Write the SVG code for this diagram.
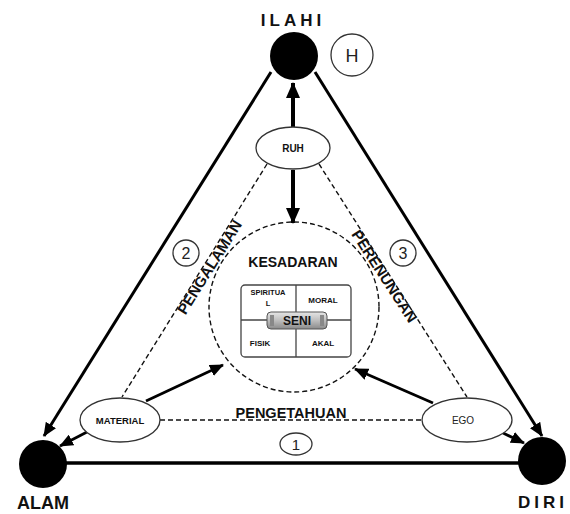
<svg xmlns="http://www.w3.org/2000/svg" width="570" height="514" viewBox="0 0 570 514">
<style>
.t{font-family:"Liberation Sans",Arial,sans-serif;font-weight:bold;fill:#111;text-anchor:middle}
.thin{font-family:"Liberation Sans",Arial,sans-serif;fill:#222;text-anchor:middle}
.dash{stroke:#111;stroke-width:1.4;stroke-dasharray:5,3;fill:none}
.ell{fill:#fff;stroke:#333;stroke-width:1.3}
.num{fill:#fff;stroke:#333;stroke-width:1.3}
</style>
<defs>
<marker id="ah" markerUnits="userSpaceOnUse" markerWidth="16" markerHeight="14" refX="15" refY="7" orient="auto">
<path d="M0,0 L16,7 L0,14 z" fill="#000"/>
</marker>
<marker id="ahs" markerUnits="userSpaceOnUse" markerWidth="14" markerHeight="12" refX="13" refY="6" orient="auto">
<path d="M0,0 L14,6 L0,12 z" fill="#000"/>
</marker>
<linearGradient id="pill" x1="0" y1="0" x2="0" y2="1">
<stop offset="0" stop-color="#e6e6e6"/>
<stop offset="0.5" stop-color="#bdbdbd"/>
<stop offset="1" stop-color="#8a8a8a"/>
</linearGradient>
</defs>
<g id="connectors">
<line x1="271" y1="72" x2="44" y2="436" stroke="#000" stroke-width="3" marker-end="url(#ahs)"/>
<line x1="315" y1="72" x2="542" y2="436" stroke="#000" stroke-width="3" marker-end="url(#ahs)"/>
<line x1="66" y1="463" x2="520" y2="463" stroke="#000" stroke-width="3.5"/>
<line x1="293" y1="127" x2="293" y2="83" stroke="#000" stroke-width="4" marker-end="url(#ah)"/>
<line x1="293" y1="170" x2="293" y2="223" stroke="#000" stroke-width="4" marker-end="url(#ah)"/>
<line x1="267" y1="164" x2="122" y2="397" class="dash"/>
<line x1="319" y1="164" x2="467" y2="397" class="dash"/>
<line x1="160" y1="420" x2="422" y2="420" class="dash"/>
<line x1="146" y1="401" x2="223" y2="365" stroke="#000" stroke-width="2.8" marker-end="url(#ahs)"/>
<line x1="433" y1="403" x2="355" y2="369" stroke="#000" stroke-width="2.8" marker-end="url(#ahs)"/>
<line x1="87" y1="432" x2="60" y2="446" stroke="#000" stroke-width="2.8" marker-end="url(#ahs)"/>
<line x1="503" y1="433" x2="524" y2="443" stroke="#000" stroke-width="2.8" marker-end="url(#ahs)"/>
</g>
<g id="ilahi">
<circle cx="294" cy="56" r="24" fill="#000"/>
<text x="293" y="26" class="t" font-size="17" letter-spacing="4">ILAHI</text>
</g>
<g id="h">
<circle cx="352" cy="55" r="21" class="num"/>
<text x="352" y="62" class="thin" font-size="18">H</text>
</g>
<g id="alam">
<circle cx="43" cy="464" r="24" fill="#000"/>
<text x="43" y="509" class="t" font-size="18">ALAM</text>
</g>
<g id="diri">
<circle cx="542" cy="461" r="24" fill="#000"/>
<text x="543" y="508" class="t" font-size="17" letter-spacing="4">DIRI</text>
</g>
<g id="ruh">
<ellipse cx="293" cy="148" rx="37" ry="21" class="ell"/>
<text x="293" y="152" class="t" font-size="10">RUH</text>
</g>
<g id="material">
<ellipse cx="120" cy="420" rx="40" ry="22" class="ell"/>
<text x="120" y="424" class="t" font-size="9.5">MATERIAL</text>
</g>
<g id="ego">
<ellipse cx="467" cy="420" rx="45" ry="22" class="ell"/>
<text x="463" y="424" class="thin" font-size="10">EGO</text>
</g>
<g id="kesadaran">
<circle cx="294" cy="307" r="85" class="dash" fill="#fff"/>
<text x="293" y="267" class="t" font-size="14">KESADARAN</text>
<rect x="241" y="285" width="110" height="72" rx="4" fill="#fff" stroke="#444" stroke-width="1.3"/>
<line x1="296" y1="285" x2="296" y2="357" stroke="#444" stroke-width="1.3"/>
<line x1="241" y1="320" x2="351" y2="320" stroke="#444" stroke-width="1.3"/>
<rect x="267" y="312" width="60" height="17" rx="4" fill="url(#pill)" stroke="#555" stroke-width="1"/>
<rect x="270" y="315" width="4" height="11" fill="#888"/>
<rect x="320" y="315" width="4" height="11" fill="#888"/>
<text x="297" y="325" class="t" font-size="12">SENI</text>
<text x="268" y="295" class="t" font-size="7.5">SPIRITUA</text>
<text x="268" y="306" class="t" font-size="7.5">L</text>
<text x="323" y="303" class="t" font-size="8">MORAL</text>
<text x="260" y="346" class="t" font-size="8">FISIK</text>
<text x="323" y="346" class="t" font-size="8">AKAL</text>
</g>
<g id="labels">
<text class="t" font-size="15" transform="translate(214,270) rotate(-58)">PENGALAMAN</text>
<text class="t" font-size="15" transform="translate(380,279) rotate(57)">PERENUNGAN</text>
<text x="291" y="418" class="t" font-size="14.5">PENGETAHUAN</text>
</g>
<g id="n1">
<ellipse cx="296" cy="444" rx="16" ry="11" class="num"/>
<text x="296" y="450" class="thin" font-size="15">1</text>
</g>
<g id="n2">
<circle cx="186" cy="253" r="13" class="num"/>
<text x="186" y="259" class="thin" font-size="16">2</text>
</g>
<g id="n3">
<circle cx="403" cy="253" r="13" class="num"/>
<text x="403" y="259" class="thin" font-size="16">3</text>
</g>
</svg>
